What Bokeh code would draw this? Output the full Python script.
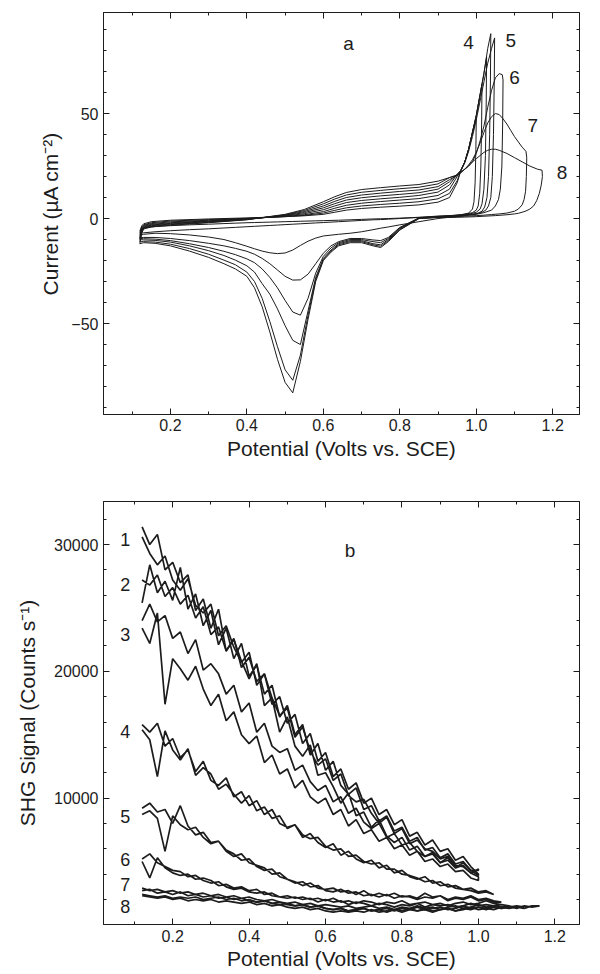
import numpy as np
from bokeh.plotting import figure
from bokeh.models import Range1d, LinearAxis, SingleIntervalTicker, PrintfTickFormatter
from bokeh.layouts import column
from bokeh.embed import file_html
from bokeh.resources import INLINE
from bokeh.core.properties import value

FONT = "Liberation Sans"
INK = "#1c1c1c"

# ---------------- Panel a: cyclic voltammograms (µA cm^-2 vs V) ----------------
ANODIC_V = [0.12, 0.125, 0.13, 0.15, 0.2, 0.3, 0.4, 0.5, 0.55, 0.6, 0.63, 0.66, 0.7, 0.75, 0.8, 0.85, 0.9, 0.93]
CATHODIC_V = [0.9, 0.85, 0.8, 0.77, 0.75, 0.73, 0.7, 0.67, 0.64, 0.62, 0.6, 0.58, 0.56, 0.54, 0.52,
              0.5, 0.48, 0.46, 0.44, 0.42, 0.4, 0.37, 0.34, 0.3, 0.25, 0.2, 0.16, 0.13, 0.12]

cv1_anodic = [-6.0, -3.5, -2.5, -1.5, -0.8, -0.2, 0.3, 0.9, 1.3, 2.0, 3.0, 4.0, 4.8, 5.4, 5.9, 6.5, 7.8, 10.0]
cv2_anodic = [-7.0, -4.0, -3.0, -2.0, -1.2, -0.5, 0.1, 0.9, 1.5, 2.6, 3.9, 5.1, 6.0, 6.7, 7.3, 8.0, 9.4, 12.0]
cv3_anodic = [-8.0, -4.5, -3.3, -2.4, -1.6, -0.8, 0.0, 1.0, 1.8, 3.3, 4.9, 6.3, 7.3, 8.1, 8.8, 9.5, 11.0, 14.0]
cv4_anodic = [-9.0, -5.0, -3.7, -2.8, -2.0, -1.1, -0.2, 1.2, 2.3, 4.2, 6.0, 7.6, 8.6, 9.4, 10.1, 11.0, 12.6, 16.0]
cv5_anodic = [-9.5, -5.5, -4.0, -3.1, -2.3, -1.3, -0.3, 1.4, 2.8, 5.1, 7.1, 8.8, 9.9, 10.8, 11.5, 12.3, 14.0, 17.5]
cv6_anodic = [-10.0, -6.0, -4.3, -3.4, -2.6, -1.5, -0.4, 1.6, 3.3, 6.0, 8.2, 10.0, 11.2, 12.1, 12.9, 13.6, 15.2, 18.5]
cv7_anodic = [-11.0, -6.5, -4.6, -3.7, -2.9, -1.8, -0.5, 1.8, 3.8, 7.0, 9.3, 11.2, 12.5, 13.4, 14.2, 14.9, 16.5, 19.5]
cv8_anodic = [-12.0, -7.0, -5.0, -4.0, -3.2, -2.0, -0.6, 2.0, 4.3, 8.0, 10.4, 12.4, 13.8, 14.7, 15.5, 16.2, 17.8, 19.5]

cv1_tail_v = [0.95, 0.96, 0.97, 0.98, 0.99, 1.0, 0.999, 0.997, 0.994, 0.99, 0.98, 0.96, 0.93]
cv1_tail_i = [17, 23, 27, 33, 41, 48, 33, 17, 8, 4.5, 2.6, 1.8, 1.3]
cv2_tail_v = [0.95, 0.96, 0.97, 0.98, 0.99, 1.0, 1.01, 1.015, 1.014, 1.012, 1.009, 1.005, 1.0, 0.99, 0.97, 0.94]
cv2_tail_i = [18, 23, 27, 33, 41, 49, 59, 64, 45, 25, 12, 6, 4, 2.8, 2.0, 1.5]
cv3_tail_v = [0.95, 0.96, 0.97, 0.98, 0.99, 1.0, 1.01, 1.02, 1.027, 1.026, 1.024, 1.02, 1.015, 1.01, 1.0, 0.98, 0.95]
cv3_tail_i = [20, 23, 27, 33, 41, 49, 59, 69, 77, 55, 30, 14, 7, 4.5, 3.0, 2.0, 1.0]
cv4_tail_v = [0.95, 0.96, 0.97, 0.98, 0.99, 1.0, 1.01, 1.02, 1.03, 1.038, 1.037, 1.035, 1.032, 1.028,
              1.022, 1.015, 1.005, 0.99, 0.96, 0.93]
cv4_tail_i = [21, 23, 27, 33, 41, 49, 59, 69, 81, 88, 65, 40, 20, 10, 5.5, 3.5, 2.6, 2.0, 1.5, 1.1]
cv5_tail_v = [0.95, 0.96, 0.97, 0.98, 0.99, 1.0, 1.01, 1.02, 1.03, 1.04, 1.048, 1.047, 1.045, 1.042,
              1.038, 1.032, 1.025, 1.015, 1.0, 0.97, 0.93]
cv5_tail_i = [21, 23, 26.5, 32, 39, 47, 56, 65, 74, 81, 86, 65, 40, 20, 10, 6, 4, 3, 2.2, 1.6, 1.1]
cv6_tail_v = [0.95, 0.96, 0.97, 0.98, 0.99, 1.0, 1.01, 1.02, 1.03, 1.04, 1.05, 1.06, 1.068, 1.07, 1.069,
              1.067, 1.063, 1.058, 1.05, 1.04, 1.02, 1.0, 0.97, 0.93]
cv6_tail_i = [20.5, 22, 23.5, 25, 27, 31, 37, 44, 53, 61, 67, 69, 68.5, 66, 45, 25, 14, 9, 6, 4, 2.8, 2.0, 1.4, 1.0]
cv7_tail_v = [0.95, 0.96, 0.97, 0.98, 0.99, 1.0, 1.01, 1.02, 1.03, 1.04, 1.05, 1.06, 1.07, 1.08, 1.09, 1.1,
              1.11, 1.12, 1.13, 1.132, 1.131, 1.129, 1.125, 1.12, 1.11, 1.1, 1.08, 1.06, 1.04, 1.02, 1.0, 0.97, 0.93]
cv7_tail_i = [20.5, 22, 23.5, 25.5, 28, 31.5, 36, 41, 45.5, 48.5, 50, 49.5, 47.5, 45, 42, 39, 36.5, 34, 32,
              29, 20, 13, 9, 6.5, 4.5, 3.5, 2.6, 2.2, 1.9, 1.6, 1.4, 1.1, 0.8]
cv8_tail_v = [0.95, 0.96, 0.97, 0.98, 0.99, 1.0, 1.01, 1.02, 1.03, 1.04, 1.05, 1.06, 1.08, 1.1, 1.12, 1.14,
              1.16, 1.172, 1.173, 1.17, 1.165, 1.158, 1.15, 1.14, 1.13, 1.12, 1.11, 1.1, 1.08, 1.05, 1.02,
              1.0, 0.97, 0.93]
cv8_tail_i = [20.8, 22, 23.5, 25, 27, 28.5, 30, 31.5, 32.5, 33, 33, 32.5, 31, 29, 27, 25, 23.5, 23, 20, 16,
              12, 8.5, 6, 4.5, 3.6, 3.0, 2.5, 2.2, 1.8, 1.4, 1.1, 0.9, 0.7, 0.5]

cv1_cathodic = [1.0, 0.6, 0.2, 0.0, -0.1, -0.2, -0.4, -0.6, -0.8, -0.9, -1.0, -1.1, -1.2, -1.3, -1.4,
                -1.5, -1.6, -1.7, -1.8, -1.9, -2.0, -2.2, -2.4, -2.7, -3.0, -3.4, -3.8, -4.5, -6.0]
cv2_cathodic = [1.2, 0.5, 0.0, -0.3, -0.5, -0.6, -0.9, -1.2, -1.5, -1.7, -1.9, -2.1, -2.3, -2.5, -2.7,
                -2.9, -3.1, -3.3, -3.5, -3.7, -3.9, -4.2, -4.5, -4.9, -5.3, -5.8, -6.3, -6.8, -7.0]
cv3_cathodic = [0.0, -1.5, -3.0, -4.0, -4.6, -5.3, -6.3, -7.0, -7.5, -7.9, -8.3, -9.3, -10.8, -12.8, -15.0,
                -16.4, -16.7, -16.3, -15.5, -14.4, -13.2, -11.5, -10.0, -8.8, -7.8, -7.2, -7.0, -7.5, -8.0]
cv4_cathodic = [0.9, 0.3, -4.2, -9.0, -10.5, -10.2, -9.5, -9.5, -11.0, -13.0, -16.5, -21.5, -26.5, -29.2, -29.3,
                -27.5, -24.5, -21.5, -19.0, -17.0, -15.6, -14.2, -13.0, -11.8, -10.5, -9.5, -9.0, -9.0, -9.0]
cv5_cathodic = [0.8, 0.2, -4.5, -9.5, -11.5, -11.0, -10.0, -10.0, -11.5, -14.0, -18.0, -26.0, -38.0, -46.0, -44.5,
                -39.0, -33.0, -28.0, -24.0, -21.0, -19.2, -17.2, -15.6, -13.8, -12.0, -10.5, -9.8, -9.6, -9.5]
cv6_cathodic = [0.7, 0.1, -4.8, -10.0, -12.5, -12.0, -10.5, -10.5, -12.0, -15.0, -19.0, -28.0, -44.0, -60.0, -58.0,
                -51.0, -43.0, -36.0, -31.0, -25.5, -22.5, -19.8, -17.6, -15.3, -13.0, -11.2, -10.4, -10.2, -10.0]
cv7_cathodic = [0.6, 0.0, -5.2, -10.5, -13.2, -12.5, -11.0, -11.0, -12.5, -15.5, -19.5, -29.0, -46.0, -65.0, -77.0,
                -72.0, -61.0, -49.0, -38.0, -30.0, -25.5, -22.0, -19.8, -17.0, -14.3, -12.2, -11.2, -11.0, -11.0]
cv8_cathodic = [0.5, 0.0, -5.5, -11.0, -13.8, -13.0, -11.5, -11.5, -13.0, -16.0, -20.0, -30.0, -48.0, -68.0, -83.0,
                -78.0, -67.0, -54.0, -42.0, -33.0, -27.5, -24.0, -21.5, -18.5, -15.5, -13.0, -11.8, -11.5, -12.0]

cv_labels = ["a", "4", "5", "6", "7", "8"]
cv_label_v = [0.666, 0.98, 1.09, 1.10, 1.148, 1.224]
cv_label_i = [83.3, 84.0, 84.7, 67.0, 44.3, 22.1]

# ---------------- Panel b: SHG signal (k counts s^-1, scans at 0.02 V steps) ----------------
SHG_START = 0.12
SHG_END = [1.00, 1.00, 1.00, 1.04, 1.06, 1.08, 1.12, 1.16]

shg1_fwd = [31.4, 30.0, 30.8, 28.0, 28.6, 27.0, 27.6, 24.8, 25.7, 23.4, 24.9, 21.6, 22.5, 20.8, 19.4, 20.6,
            17.3, 17.9, 15.2, 16.4, 14.1, 13.3, 14.2, 11.8, 12.0, 10.9, 9.6, 10.4, 8.6, 8.9, 7.7, 8.3, 7.0,
            6.5, 6.9, 5.9, 6.2, 5.4, 5.6, 4.9, 5.3, 4.5, 4.9, 4.3, 4.3]
shg1_rev = [30.6, 29.3, 28.4, 29.1, 27.2, 26.4, 27.3, 25.2, 24.6, 25.3, 22.8, 23.6, 21.9, 20.7, 21.5, 18.9,
            19.8, 17.9, 16.5, 17.1, 14.8, 15.6, 13.7, 12.6, 13.1, 11.4, 11.9, 10.2, 9.7, 9.9, 8.8, 8.0, 8.5,
            7.2, 7.6, 6.4, 6.7, 6.0, 5.8, 5.2, 5.4, 4.7, 4.6, 4.1, 4.4]
shg2_fwd = [25.4, 28.4, 26.2, 27.1, 25.6, 28.2, 24.9, 26.1, 23.6, 24.8, 22.1, 23.4, 21.0, 22.2, 19.6, 20.5,
            18.2, 18.9, 16.4, 17.3, 15.0, 15.8, 13.4, 14.3, 12.2, 12.9, 11.0, 10.3, 10.8, 9.1, 9.4, 8.2, 8.6,
            7.4, 7.7, 6.6, 6.9, 5.9, 6.1, 5.3, 5.6, 4.8, 5.0, 4.3, 3.9]
shg2_rev = [27.2, 26.8, 27.6, 25.9, 26.6, 25.3, 26.0, 24.2, 25.1, 22.9, 23.5, 21.6, 22.6, 20.3, 21.1, 19.2,
            19.8, 17.4, 18.0, 15.9, 16.6, 14.3, 15.1, 12.9, 13.6, 11.7, 12.3, 10.7, 11.2, 9.6, 10.0, 8.7, 9.1,
            7.9, 8.3, 7.0, 7.3, 6.3, 6.7, 5.8, 6.0, 5.1, 5.4, 4.6, 4.0]
shg3_fwd = [24.0, 25.3, 23.9, 24.4, 22.6, 23.1, 21.4, 22.5, 20.1, 20.6, 19.8, 18.2, 18.9, 16.8, 17.5, 15.2,
            15.9, 14.1, 13.6, 13.9, 12.2, 12.6, 11.3, 10.6, 11.0, 9.7, 10.1, 8.8, 9.2, 8.1, 7.6, 8.0, 6.9,
            7.2, 6.3, 6.5, 5.8, 5.4, 5.7, 4.9, 5.1, 4.5, 4.7, 4.1, 3.8]
shg3_rev = [23.4, 22.2, 24.6, 17.4, 21.0, 20.2, 19.3, 20.4, 18.6, 17.3, 18.2, 16.1, 16.8, 15.0, 14.3, 14.9,
            12.8, 13.4, 11.9, 12.3, 10.8, 11.4, 10.1, 9.6, 10.0, 8.7, 9.1, 7.8, 8.3, 7.2, 7.5, 6.6, 6.9,
            6.0, 6.3, 5.5, 5.8, 5.0, 5.2, 4.6, 4.8, 4.2, 4.3, 3.7, 3.5]
shg4_fwd = [15.8, 15.2, 15.9, 14.1, 14.7, 13.2, 13.8, 12.1, 12.9, 11.4, 11.0, 11.6, 10.1, 10.5, 9.4, 9.8,
            8.7, 9.1, 8.0, 7.7, 7.9, 6.9, 7.2, 6.5, 6.1, 6.4, 5.5, 5.8, 5.2, 4.9, 5.1, 4.5, 4.7, 4.1, 4.3,
            3.8, 3.6, 3.8, 3.3, 3.4, 3.0, 3.1, 2.8, 2.9, 2.6, 2.7, 2.4]
shg4_rev = [15.4, 14.6, 11.7, 15.3, 13.8, 13.0, 13.9, 11.8, 12.4, 11.9, 10.7, 11.1, 10.3, 9.6, 10.2, 9.0,
            9.3, 8.4, 8.6, 7.6, 7.9, 7.1, 6.8, 6.9, 6.2, 5.9, 6.0, 5.4, 5.5, 5.0, 4.8, 4.9, 4.4, 4.4, 4.0,
            3.9, 3.7, 3.4, 3.5, 3.1, 3.2, 2.9, 2.8, 2.7, 2.5, 2.6, 2.4]
shg5_fwd = [9.2, 9.6, 8.9, 9.1, 8.0, 9.4, 7.8, 7.1, 7.3, 6.5, 6.6, 5.9, 5.6, 5.1, 5.2, 4.6, 4.3, 4.4, 3.8,
            3.6, 3.4, 3.1, 3.3, 2.9, 2.8, 2.9, 2.6, 2.7, 2.4, 2.7, 2.3, 2.5, 2.3, 2.5, 2.2, 2.3, 2.1, 2.5,
            2.2, 2.3, 2.0, 2.2, 2.1, 2.3, 2.0, 2.1, 1.9, 1.8]
shg5_rev = [8.7, 9.0, 8.4, 5.8, 8.6, 7.9, 7.5, 7.7, 6.9, 6.4, 6.6, 5.8, 5.4, 5.6, 4.9, 4.7, 4.5, 4.0, 4.1,
            3.6, 3.3, 3.4, 3.0, 3.1, 2.7, 2.6, 2.8, 2.5, 2.6, 2.3, 2.4, 2.2, 2.4, 2.1, 2.3, 2.2, 2.0, 2.2,
            2.1, 2.3, 1.9, 2.1, 2.0, 2.2, 1.9, 2.0, 1.8, 1.8]
shg6_fwd = [5.2, 5.6, 4.9, 4.6, 4.3, 4.2, 3.8, 3.9, 3.5, 3.3, 3.4, 3.0, 2.8, 2.9, 2.6, 2.5, 2.6, 2.3, 2.2,
            2.3, 2.1, 2.2, 2.0, 2.1, 1.9, 2.1, 1.8, 1.9, 1.7, 1.9, 1.8, 1.6, 1.8, 1.7, 1.9, 1.6, 1.7, 1.8,
            1.6, 1.7, 1.5, 1.7, 1.8, 1.6, 1.7, 1.9, 1.7, 1.6, 1.5]
shg6_rev = [5.0, 3.7, 5.3, 4.5, 4.1, 3.9, 4.0, 3.6, 3.7, 3.5, 3.1, 3.2, 2.9, 3.0, 2.7, 2.8, 2.4, 2.5, 2.2,
            2.1, 2.2, 2.0, 2.1, 1.8, 2.0, 1.8, 1.9, 1.6, 1.8, 1.7, 1.5, 1.7, 1.6, 1.4, 1.6, 1.5, 1.7, 1.4,
            1.6, 1.5, 1.6, 1.4, 1.5, 1.7, 1.5, 1.6, 1.5, 1.6, 1.5]
shg7_fwd = [2.9, 2.7, 2.8, 2.6, 2.7, 2.5, 2.6, 2.4, 2.5, 2.3, 2.4, 2.2, 2.3, 2.1, 2.2, 2.0, 1.9, 2.0, 1.8,
            1.7, 1.8, 1.6, 1.7, 1.5, 1.6, 1.5, 1.4, 1.5, 1.3, 1.4, 1.5, 1.3, 1.4, 1.2, 1.4, 1.3, 1.5, 1.3,
            1.4, 1.2, 1.4, 1.5, 1.3, 1.4, 1.6, 1.4, 1.5, 1.3, 1.4, 1.5, 1.4]
shg7_rev = [2.7, 2.8, 2.5, 2.6, 2.4, 2.6, 2.3, 2.4, 2.2, 2.3, 2.1, 2.2, 2.0, 2.1, 1.9, 1.8, 1.9, 1.7, 1.6,
            1.7, 1.5, 1.6, 1.4, 1.5, 1.3, 1.2, 1.3, 1.1, 1.2, 1.3, 1.1, 1.2, 1.0, 1.2, 1.1, 1.3, 1.1, 1.2,
            1.0, 1.2, 1.3, 1.1, 1.2, 1.4, 1.2, 1.3, 1.2, 1.4, 1.3, 1.4, 1.4]
shg8_fwd = [2.4, 2.3, 2.2, 2.3, 2.1, 2.2, 2.1, 2.2, 2.0, 2.1, 2.2, 2.0, 2.1, 1.9, 2.0, 1.8, 1.9, 1.7, 1.8,
            1.6, 1.5, 1.6, 1.4, 1.5, 1.3, 1.2, 1.3, 1.1, 1.2, 1.3, 1.1, 1.2, 1.3, 1.1, 1.3, 1.2, 1.4, 1.2,
            1.3, 1.4, 1.2, 1.3, 1.5, 1.3, 1.4, 1.3, 1.5, 1.4, 1.5, 1.3, 1.5, 1.4, 1.5]
shg8_rev = [2.3, 2.2, 2.1, 2.2, 2.0, 2.1, 1.9, 2.0, 1.9, 2.0, 1.8, 1.9, 1.8, 1.7, 1.8, 1.6, 1.7, 1.5, 1.6,
            1.4, 1.3, 1.4, 1.2, 1.3, 1.1, 1.0, 1.1, 1.0, 1.1, 1.0, 1.2, 1.0, 1.1, 1.2, 1.0, 1.2, 1.1, 1.3,
            1.1, 1.2, 1.3, 1.1, 1.3, 1.2, 1.4, 1.2, 1.4, 1.3, 1.4, 1.4, 1.3, 1.5, 1.5]

shg_labels = ["1", "2", "3", "4", "5", "6", "7", "8"]
shg_label_v = [0.076] * 8
shg_label_s = [30380, 26830, 22880, 15230, 8520, 5130, 3160, 1420]


def style_axes(p, x_ticker, y_ticker, xlabel, ylabel, lab_standoff_x, lab_standoff_y, tick_standoff_x):
    top = LinearAxis(ticker=x_ticker)
    right = LinearAxis(ticker=y_ticker)
    p.add_layout(top, "above")
    p.add_layout(right, "right")
    bottom = p.below[0]
    left = p.left[0]
    bottom.ticker = x_ticker
    left.ticker = y_ticker
    bottom.formatter = PrintfTickFormatter(format="%.1f")
    for ax in (bottom, left, top, right):
        ax.axis_line_color = INK
        ax.axis_line_width = 1
        ax.major_tick_line_color = INK
        ax.minor_tick_line_color = INK
        ax.major_tick_in = 6
        ax.major_tick_out = 0
        ax.minor_tick_in = 3
        ax.minor_tick_out = 0
        ax.major_label_text_font = FONT
        ax.major_label_text_font_size = "16px"
        ax.major_label_text_color = INK
        ax.axis_label_text_font = FONT
        ax.axis_label_text_font_size = "21px"
        ax.axis_label_text_font_style = "normal"
        ax.axis_label_text_color = INK
    for ax in (top, right):
        ax.major_label_text_color = None
        ax.major_label_text_font_size = "1px"
        ax.major_label_standoff = 0
    bottom.major_label_standoff = tick_standoff_x
    left.major_label_standoff = 5
    bottom.axis_label = xlabel
    left.axis_label = ylabel
    bottom.axis_label_standoff = lab_standoff_x
    left.axis_label_standoff = lab_standoff_y
    p.grid.visible = False
    p.outline_line_color = INK
    p.outline_line_width = 1
    p.background_fill_color = "white"
    p.border_fill_color = "white"


# ---------- figure a ----------
pa = figure(width=600, height=464, x_range=Range1d(0.025, 1.27), y_range=Range1d(-93.3, 98.1),
            output_backend="svg", toolbar_location=None,
            min_border_left=103, min_border_right=21, min_border_top=12, min_border_bottom=50)
style_axes(pa, SingleIntervalTicker(interval=0.2, num_minor_ticks=2),
           SingleIntervalTicker(interval=50, num_minor_ticks=5),
           "Potential (Volts vs. SCE)", "Current (µA cm⁻²)", 3, 6, 4)

cv_sets = [
    (cv1_anodic, cv1_tail_v, cv1_tail_i, cv1_cathodic),
    (cv2_anodic, cv2_tail_v, cv2_tail_i, cv2_cathodic),
    (cv3_anodic, cv3_tail_v, cv3_tail_i, cv3_cathodic),
    (cv4_anodic, cv4_tail_v, cv4_tail_i, cv4_cathodic),
    (cv5_anodic, cv5_tail_v, cv5_tail_i, cv5_cathodic),
    (cv6_anodic, cv6_tail_v, cv6_tail_i, cv6_cathodic),
    (cv7_anodic, cv7_tail_v, cv7_tail_i, cv7_cathodic),
    (cv8_anodic, cv8_tail_v, cv8_tail_i, cv8_cathodic),
]
for an, tv, ti, ca in cv_sets:
    xs = list(ANODIC_V) + list(tv) + list(CATHODIC_V)
    ys = list(an) + list(ti) + list(ca)
    pa.line(xs, ys, line_color=INK, line_width=1.0)

pa.text(x=cv_label_v, y=cv_label_i, text=cv_labels, text_font=value(FONT), text_font_size="19px",
        text_align="center", text_baseline="middle", text_color=INK)

# ---------- figure b ----------
pb = figure(width=600, height=510, x_range=Range1d(0.019, 1.2645), y_range=Range1d(30, 33395),
            output_backend="svg", toolbar_location=None,
            min_border_left=97, min_border_right=1, min_border_top=37, min_border_bottom=50)
style_axes(pb, SingleIntervalTicker(interval=0.2, num_minor_ticks=2),
           SingleIntervalTicker(interval=10000, num_minor_ticks=5),
           "Potential (Volts vs. SCE)", "SHG Signal (Counts s⁻¹)", 2, 12, 5)

shg_sets = [
    (shg1_fwd, shg1_rev), (shg2_fwd, shg2_rev), (shg3_fwd, shg3_rev), (shg4_fwd, shg4_rev),
    (shg5_fwd, shg5_rev), (shg6_fwd, shg6_rev), (shg7_fwd, shg7_rev), (shg8_fwd, shg8_rev),
]
for (fwd, rev), vend in zip(shg_sets, SHG_END):
    xf = np.linspace(SHG_START, vend, len(fwd))
    xr = np.linspace(SHG_START, vend, len(rev))
    xs = np.concatenate([xf, xr[::-1]])
    ys = np.concatenate([np.array(fwd), np.array(rev)[::-1]]) * 1000.0
    pb.line(xs, ys, line_color=INK, line_width=1.7)

pb.text(x=shg_label_v, y=shg_label_s, text=shg_labels, text_font=value(FONT), text_font_size="18px",
        text_align="center", text_baseline="middle", text_color=INK)
pb.text(x=[0.664], y=[29500], text=["b"], text_font=value(FONT), text_font_size="19px",
        text_align="center", text_baseline="middle", text_color=INK)

layout = column(pa, pb, spacing=0)
open("out.html", "w").write(file_html(layout, INLINE))
